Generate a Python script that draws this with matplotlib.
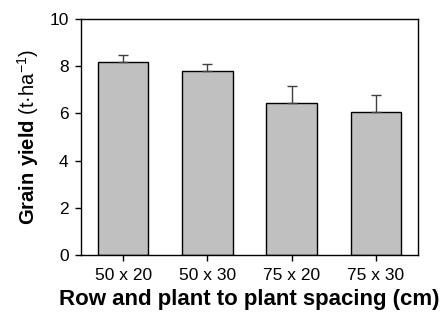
import matplotlib
matplotlib.use("Agg")
import matplotlib.pyplot as plt
import numpy as np

plt.rcParams["font.family"] = ["Liberation Sans", "DejaVu Sans"]
plt.rcParams["mathtext.fontset"] = "custom"
plt.rcParams["mathtext.rm"] = "Liberation Sans"
plt.rcParams["mathtext.bf"] = "Liberation Sans:bold"

spacings = ["50 x 20", "50 x 30", "75 x 20", "75 x 30"]
grain_yield = [8.19, 7.81, 6.43, 6.06]
yield_err = [0.27, 0.30, 0.74, 0.73]

fig = plt.figure(figsize=(4.44, 3.23), dpi=100)
ax = fig.add_axes([81 / 444, 1 - 255 / 323, (418 - 81) / 444, (255 - 19) / 323])

x = np.arange(len(spacings))
ax.bar(x, grain_yield, width=0.6, color="#c0c0c0", edgecolor="black", linewidth=1.0, zorder=2)
ax.errorbar(x, grain_yield, yerr=[np.zeros(len(yield_err)), yield_err], fmt="none",
            ecolor="#404040", elinewidth=1.0, capsize=3.5, capthick=1.0, zorder=3)

ax.set_xlim(-0.5, 3.5)
ax.set_ylim(0, 10)
ax.set_yticks([0, 2, 4, 6, 8, 10])
ax.set_xticks(x)
ax.set_xticklabels(spacings)
ax.tick_params(axis="both", direction="out", length=4, width=1, labelsize=12.5, pad=5)

for s in ax.spines.values():
    s.set_linewidth(1.0)

ax.set_xlabel("Row and plant to plant spacing (cm)", fontsize=16, fontweight="bold", labelpad=5)
ax.set_ylabel(r"$\mathbf{Grain\ yield}$ (t·ha$^{-1}$)", fontsize=14.5, labelpad=6)

fig.savefig("out.png", dpi=100)
